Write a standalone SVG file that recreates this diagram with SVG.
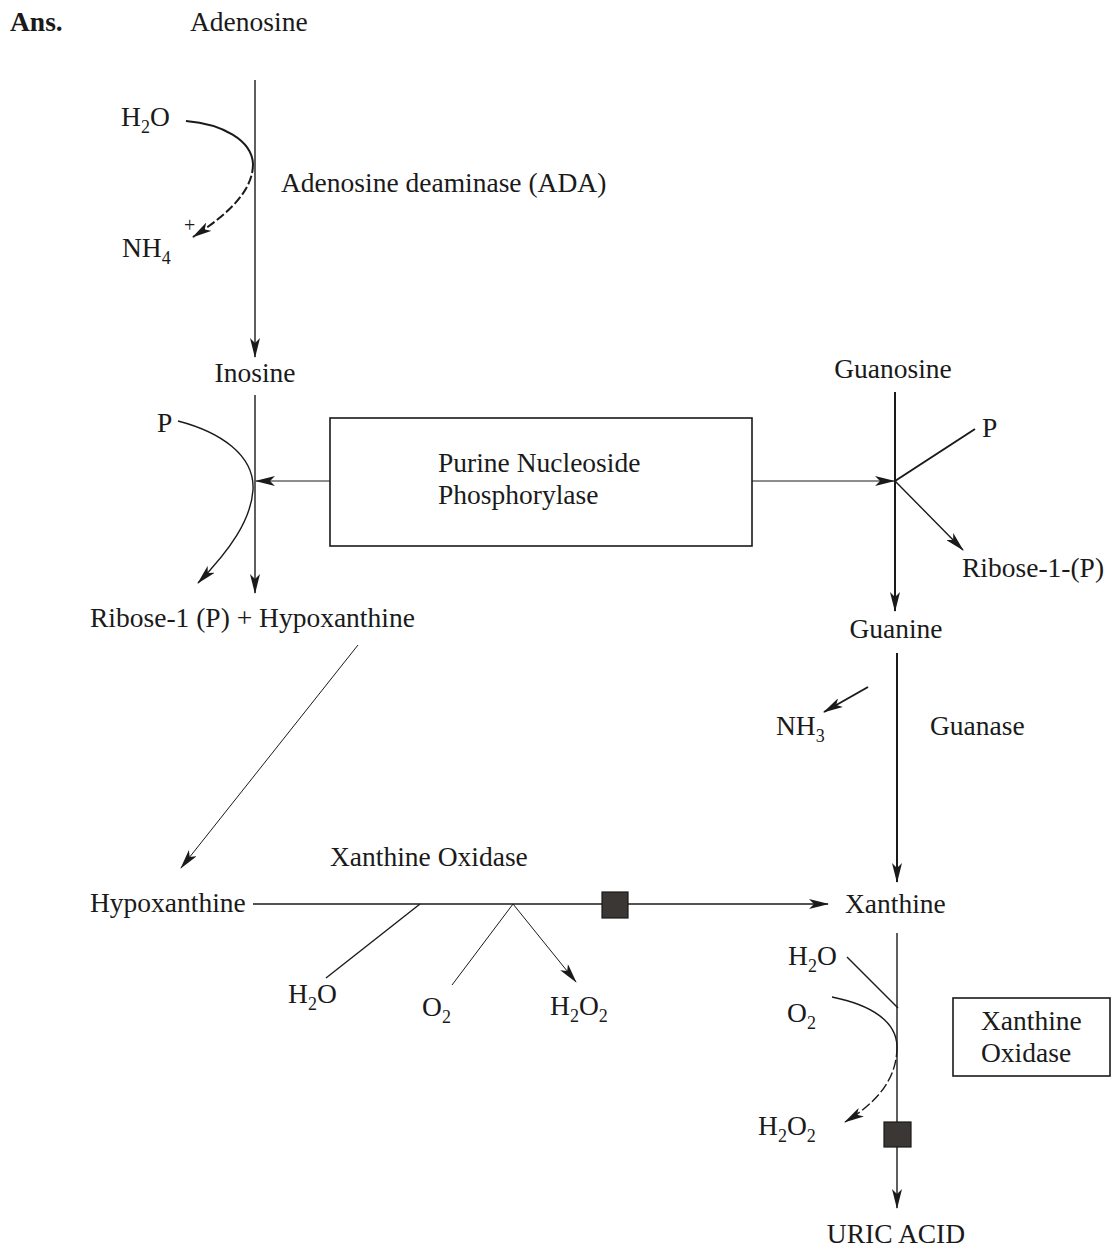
<svg xmlns="http://www.w3.org/2000/svg" width="1111" height="1250" viewBox="0 0 1111 1250" font-family="'Liberation Serif', 'DejaVu Serif', serif">
  <style>
    text { font-family: "Liberation Serif", "DejaVu Serif", serif; font-size: 27.5px; fill: #1a1a1a; }
    .sub { font-size: 18px; }
    .ln { stroke: #1a1a1a; stroke-width: 1.4; fill: none; }
    .thick { stroke: #1a1a1a; stroke-width: 2; fill: none; }
    .thin { stroke: #1a1a1a; stroke-width: 1; fill: none; }
    .box { fill: #ffffff; stroke: #1a1a1a; stroke-width: 1.6; }
    .blk { fill: #3a3735; stroke: #1a1a1a; stroke-width: 1.2; }
  </style>
  <defs>
    <marker id="ah" viewBox="0 0 20 10" refX="19" refY="5" markerWidth="20" markerHeight="10" markerUnits="userSpaceOnUse" orient="auto">
      <path d="M0,0 L20,5 L0,10 L5,5 Z" fill="#1a1a1a"/>
    </marker>
  </defs>

  <rect width="1111" height="1250" fill="#ffffff"/>

  <!-- heading -->
  <text x="10" y="31" font-weight="bold">Ans.</text>

  <!-- nodes -->
  <g id="adenosine"><text x="190" y="31">Adenosine</text></g>
  <g id="ada-label"><text x="281" y="192">Adenosine deaminase (ADA)</text></g>
  <g id="ada-h2o"><text x="121" y="126">H<tspan class="sub" dy="7">2</tspan><tspan dy="-7">O</tspan></text></g>
  <g id="ada-nh4"><text x="122" y="257">NH<tspan class="sub" dy="7">4</tspan></text><text x="184" y="232" class="sub" style="font-size:20px">+</text></g>
  <g id="inosine"><text x="255" y="382" text-anchor="middle">Inosine</text></g>
  <g id="pnp-p"><text x="157" y="432">P</text></g>
  <g id="pnp">
    <rect class="box" x="330" y="418" width="422" height="128"/>
    <text x="438" y="472">Purine Nucleoside</text>
    <text x="438" y="504">Phosphorylase</text>
  </g>
  <g id="ribose-hypox"><text x="90" y="627">Ribose-1 (P) + Hypoxanthine</text></g>
  <g id="guanosine"><text x="893" y="378" text-anchor="middle">Guanosine</text></g>
  <g id="guan-p"><text x="982" y="437">P</text></g>
  <g id="guan-ribose"><text x="962" y="577">Ribose-1-(P)</text></g>
  <g id="guanine"><text x="896" y="638" text-anchor="middle">Guanine</text></g>
  <g id="nh3"><text x="776" y="735">NH<tspan class="sub" dy="7">3</tspan></text></g>
  <g id="guanase"><text x="930" y="735">Guanase</text></g>
  <g id="xo-label"><text x="330" y="866">Xanthine Oxidase</text></g>
  <g id="hypoxanthine"><text x="90" y="912">Hypoxanthine</text></g>
  <g id="xo1-h2o"><text x="288" y="1003">H<tspan class="sub" dy="7">2</tspan><tspan dy="-7">O</tspan></text></g>
  <g id="xo1-o2"><text x="422" y="1016">O<tspan class="sub" dy="7">2</tspan></text></g>
  <g id="xo1-h2o2"><text x="550" y="1015">H<tspan class="sub" dy="7">2</tspan><tspan dy="-7">O</tspan><tspan class="sub" dy="7">2</tspan></text></g>
  <g id="xanthine"><text x="845" y="913">Xanthine</text></g>
  <g id="xo2-h2o"><text x="788" y="965">H<tspan class="sub" dy="7">2</tspan><tspan dy="-7">O</tspan></text></g>
  <g id="xo2-o2"><text x="787" y="1022">O<tspan class="sub" dy="7">2</tspan></text></g>
  <g id="xo2-h2o2"><text x="758" y="1135">H<tspan class="sub" dy="7">2</tspan><tspan dy="-7">O</tspan><tspan class="sub" dy="7">2</tspan></text></g>
  <g id="xo2-box">
    <rect class="box" x="953" y="998" width="157" height="78"/>
    <text x="981" y="1030">Xanthine</text>
    <text x="981" y="1062">Oxidase</text>
  </g>
  <g id="uric-acid"><text x="896" y="1243" text-anchor="middle">URIC ACID</text></g>

  <!-- connectors -->
  <g id="connectors">
    <!-- adenosine to inosine -->
    <line class="ln" x1="255" y1="80" x2="255" y2="357" marker-end="url(#ah)"/>
    <path class="thick" d="M186,121 C222,124 252,140 253,164"/>
    <path class="thick" d="M253,164 C253,190 230,213 193,237" stroke-dasharray="9 3" marker-end="url(#ah)"/>

    <!-- inosine to ribose-1 (P) + hypoxanthine -->
    <line class="ln" x1="255" y1="395" x2="255" y2="593" marker-end="url(#ah)"/>
    <path class="ln" d="M178,421 C220,432 255,455 253,490 C251,520 230,550 198,583" marker-end="url(#ah)"/>
    <line class="thin" x1="330" y1="481" x2="256" y2="481" marker-end="url(#ah)"/>

    <!-- guanosine to guanine -->
    <line class="thin" x1="752" y1="481" x2="894" y2="481" marker-end="url(#ah)"/>
    <line class="thick" x1="895" y1="392" x2="895" y2="611" marker-end="url(#ah)"/>
    <line class="thick" x1="895" y1="481" x2="975" y2="429"/>
    <line class="ln" x1="895" y1="481" x2="963" y2="550" marker-end="url(#ah)"/>

    <!-- guanine to xanthine -->
    <line class="thick" x1="897" y1="653" x2="897" y2="882" marker-end="url(#ah)"/>
    <line class="thick" x1="868" y1="687" x2="824" y2="712" marker-end="url(#ah)"/>

    <!-- ribose-1 (P) + hypoxanthine to hypoxanthine -->
    <line class="thin" x1="358" y1="645" x2="181" y2="868" marker-end="url(#ah)"/>

    <!-- hypoxanthine to xanthine -->
    <line class="ln" x1="253" y1="904" x2="828" y2="904" marker-end="url(#ah)"/>
    <line class="ln" x1="420" y1="904" x2="326" y2="978"/>
    <line class="thin" x1="513" y1="904" x2="452" y2="985"/>
    <line class="thin" x1="513" y1="904" x2="576" y2="982" marker-end="url(#ah)"/>
    <rect class="blk" x="602" y="892" width="26" height="26"/>

    <!-- xanthine to uric acid -->
    <line class="ln" x1="897" y1="933" x2="897" y2="1208" marker-end="url(#ah)"/>
    <line class="ln" x1="847" y1="957" x2="898" y2="1008"/>
    <path class="ln" d="M832,997 C872,1005 897,1022 897,1047"/>
    <path class="ln" d="M897,1047 C897,1078 878,1102 845,1122" stroke-dasharray="10 3" marker-end="url(#ah)"/>
    <rect class="blk" x="884" y="1122" width="27" height="25"/>
  </g>
</svg>
